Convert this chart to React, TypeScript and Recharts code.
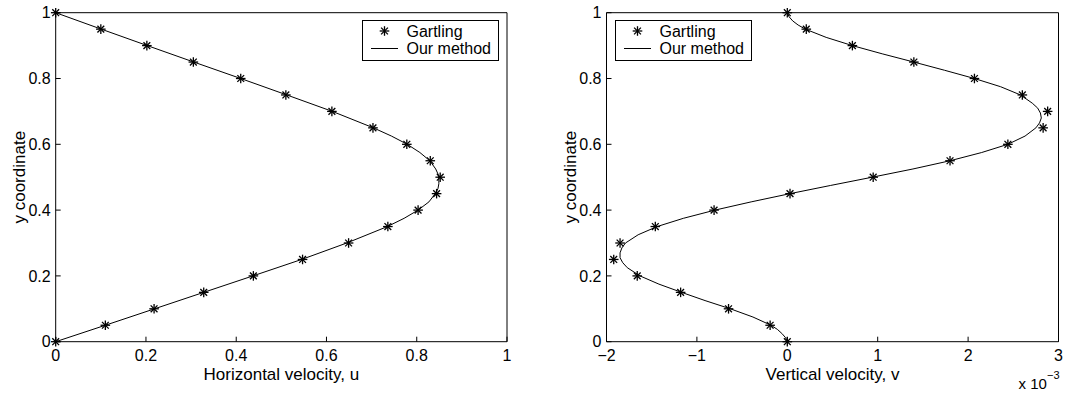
import { ScatterChart, Scatter, XAxis, YAxis, Legend, Label } from "recharts";

const FONT = '"Liberation Sans", Arial, Helvetica, sans-serif';

// y positions of the Gartling reference points
const yRef = [0, 0.05, 0.1, 0.15, 0.2, 0.25, 0.3, 0.35, 0.4, 0.45, 0.5, 0.55, 0.6, 0.65, 0.7, 0.75, 0.8, 0.85, 0.9, 0.95, 1];
const uRef = [0, 0.11, 0.218, 0.328, 0.438, 0.547, 0.649, 0.736, 0.803, 0.844, 0.852, 0.83, 0.778, 0.703, 0.612, 0.51, 0.41, 0.305, 0.202, 0.1, 0];
// vertical velocity, in units of 1e-3
const vRef = [0, -0.19, -0.65, -1.18, -1.66, -1.92, -1.85, -1.46, -0.81, 0.03, 0.95, 1.8, 2.44, 2.83, 2.88, 2.6, 2.07, 1.4, 0.72, 0.21, 0];

// "Our method" curves
const yLineU = [0, 0.05, 0.1, 0.15, 0.2, 0.25, 0.3, 0.35, 0.375, 0.4, 0.425, 0.45, 0.465, 0.48, 0.495, 0.51, 0.525, 0.55, 0.575, 0.6, 0.625, 0.65, 0.7, 0.75, 0.8, 0.85, 0.9, 0.95, 1];
const uLine = [0, 0.11, 0.219, 0.328, 0.437, 0.545, 0.645, 0.735, 0.772, 0.803, 0.827, 0.841, 0.847, 0.849, 0.849, 0.847, 0.842, 0.829, 0.807, 0.779, 0.744, 0.704, 0.613, 0.512, 0.41, 0.306, 0.203, 0.101, 0];

const yLineV = [0, 0.0125, 0.025, 0.0375, 0.05, 0.075, 0.1, 0.125, 0.15, 0.175, 0.2, 0.225, 0.24, 0.255, 0.27, 0.285, 0.3, 0.325, 0.35, 0.375, 0.4, 0.425, 0.45, 0.475, 0.5, 0.525, 0.55, 0.575, 0.6, 0.625, 0.65, 0.665, 0.68, 0.695, 0.71, 0.725, 0.75, 0.775, 0.8, 0.825, 0.85, 0.875, 0.9, 0.925, 0.95, 0.9625, 0.975, 0.9875, 1];
const vLine = [0, -0.02, -0.06, -0.11, -0.18, -0.38, -0.63, -0.91, -1.17, -1.42, -1.63, -1.77, -1.82, -1.85, -1.85, -1.83, -1.79, -1.65, -1.44, -1.15, -0.8, -0.4, 0.03, 0.48, 0.94, 1.39, 1.8, 2.15, 2.44, 2.63, 2.75, 2.79, 2.81, 2.8, 2.77, 2.71, 2.58, 2.36, 2.07, 1.74, 1.4, 1.05, 0.72, 0.43, 0.2, 0.12, 0.06, 0.02, 0];

const unitTicks = [0, 0.2, 0.4, 0.6, 0.8, 1];
const vTicks = [-2, -1, 0, 1, 2, 3];

const refU = yRef.map((y, i) => ({ x: uRef[i], y }));
const refV = yRef.map((y, i) => ({ x: vRef[i], y }));
const lineU = yLineU.map((y, i) => ({ x: uLine[i], y }));
const lineV = yLineV.map((y, i) => ({ x: vLine[i], y }));

const tickStyle = { fontSize: 16, fontFamily: FONT, fill: "#000" };
const black = { stroke: "#000", strokeWidth: 1 };

function Asterisk(props: any) {
  const { cx, cy } = props;
  if (cx == null || cy == null) return <g />;
  const r = 4.8;
  const d = 3.4;
  return (
    <g stroke="#000" strokeWidth={1.3}>
      <line x1={cx - r} y1={cy} x2={cx + r} y2={cy} />
      <line x1={cx} y1={cy - r} x2={cx} y2={cy + r} />
      <line x1={cx - d} y1={cy - d} x2={cx + d} y2={cy + d} />
      <line x1={cx - d} y1={cy + d} x2={cx + d} y2={cy - d} />
    </g>
  );
}

const NoShape = () => <g />;

function LegendBox(props: any) {
  const items = props.payload ?? [];
  return (
    <svg width={137} height={41} style={{ display: "block" }}>
      <rect x={0.5} y={0.5} width={136} height={40} fill="#fff" stroke="#000" />
      {items.map((it: any, i: number) => {
        const cy = i === 0 ? 11 : 28.5;
        return (
          <g key={i}>
            {it.value === "Gartling" ? (
              <Asterisk cx={22.5} cy={cy} />
            ) : (
              <line x1={9} x2={36} y1={cy} y2={cy} stroke="#000" />
            )}
            <text x={44.5} y={cy} dy="0.36em" fontSize={16} fontFamily={FONT} fill="#000">
              {it.value}
            </text>
          </g>
        );
      })}
    </svg>
  );
}

function YTitle(props: any) {
  const vb = props.viewBox;
  const x = vb.x + vb.width - 36;
  const y = vb.y + vb.height / 2;
  return (
    <text x={x} y={y} transform={`rotate(-90, ${x}, ${y})`} textAnchor="middle" dominantBaseline="central" fontSize={17} fontFamily={FONT} fill="#000">
      y coordinate
    </text>
  );
}

function XTitle(text: string) {
  return (props: any) => {
    const vb = props.viewBox;
    return (
      <text x={vb.x + vb.width / 2} y={vb.y + 38} textAnchor="middle" fontSize={17} fontFamily={FONT} fill="#000">
        {text}
      </text>
    );
  };
}

function Exponent(props: any) {
  const vb = props.viewBox;
  return (
    <text x={vb.x + vb.width + 1} y={vb.y + 46.8} textAnchor="end" fontSize={15} fontFamily={FONT} fill="#000">
      x 10<tspan dy={-10} fontSize={11}>−3</tspan>
    </text>
  );
}

const fmtV = (v: number) => (v < 0 ? `−${Math.abs(v)}` : `${v}`);

type PanelProps = {
  left: number;
  width: number;
  margin: { top: number; right: number; bottom: number; left: number };
  ref_: { x: number; y: number }[];
  line: { x: number; y: number }[];
  xDomain: [number, number];
  xTicks: number[];
  xFmt: (v: number) => string;
  xTitle: string;
  legendLeft: number;
  exponent?: boolean;
};

function Panel(p: PanelProps) {
  return (
    <div style={{ position: "absolute", left: p.left, top: 0 }}>
      <ScatterChart width={p.width} height={394} margin={p.margin}>
        <XAxis
          type="number"
          dataKey="x"
          domain={p.xDomain}
          ticks={p.xTicks}
          tickFormatter={p.xFmt}
          height={40}
          tickSize={-5}
          tickMargin={13}
          tick={tickStyle}
          axisLine={black}
          tickLine={black}
        >
          <Label content={XTitle(p.xTitle)} />
          {p.exponent && <Label content={Exponent} />}
        </XAxis>
        <XAxis
          xAxisId="top"
          orientation="top"
          type="number"
          dataKey="x"
          domain={p.xDomain}
          ticks={p.xTicks}
          tickFormatter={() => ""}
          height={1}
          tickSize={-5}
          axisLine={black}
          tickLine={black}
        />
        <YAxis
          type="number"
          dataKey="y"
          domain={[0, 1]}
          ticks={unitTicks}
          width={45}
          tickSize={-5}
          tickMargin={10}
          tick={tickStyle}
          axisLine={black}
          tickLine={black}
        >
          <Label content={YTitle} />
        </YAxis>
        <YAxis
          yAxisId="right"
          orientation="right"
          type="number"
          dataKey="y"
          domain={[0, 1]}
          ticks={unitTicks}
          tickFormatter={() => ""}
          width={1}
          tickSize={-5}
          axisLine={black}
          tickLine={black}
        />
        <Legend
          layout="horizontal"
          verticalAlign="middle"
          align="center"
          content={LegendBox}
          wrapperStyle={{ left: p.legendLeft, top: 20.2, width: 137, height: 41 }}
        />
        <Scatter
          name="Our method"
          data={p.line}
          line={{ stroke: "#000", strokeWidth: 1 }}
          lineType="joint"
          shape={NoShape}
          isAnimationActive={false}
          fill="#000"
        />
        <Scatter name="Gartling" data={p.ref_} shape={Asterisk} isAnimationActive={false} fill="#000" />
      </ScatterChart>
    </div>
  );
}

export default function App() {
  return (
    <div style={{ position: "absolute", left: 0, top: 0, width: 1071, height: 394, background: "#fff" }}>
      <Panel
        left={0}
        width={540}
        margin={{ top: 11.7, right: 32, bottom: 12.3, left: 10.7 }}
        ref_={refU}
        line={lineU}
        xDomain={[0, 1]}
        xTicks={unitTicks}
        xFmt={(v) => `${v}`}
        xTitle="Horizontal velocity, u"
        legendLeft={361.5}
      />
      <Panel
        left={540}
        width={531}
        margin={{ top: 11.7, right: 11.5, bottom: 12.3, left: 21.5 }}
        ref_={refV}
        line={lineV}
        xDomain={[-2, 3]}
        xTicks={vTicks}
        xFmt={fmtV}
        xTitle="Vertical velocity, v"
        legendLeft={74.5}
        exponent
      />
    </div>
  );
}
